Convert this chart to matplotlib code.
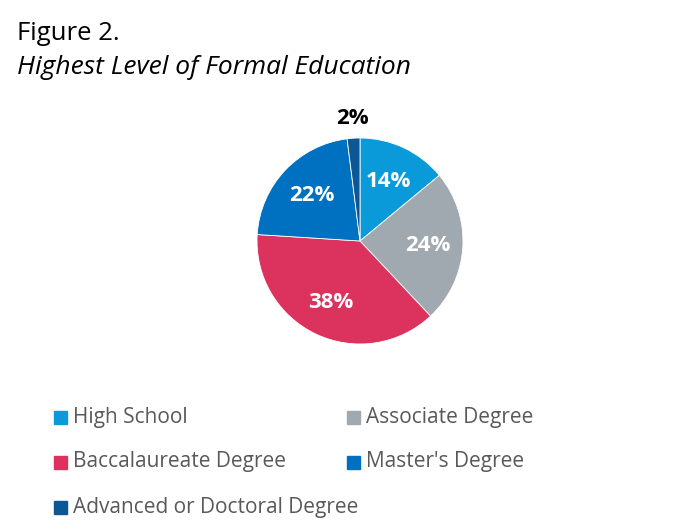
import numpy as np
import matplotlib.pyplot as plt

categories = ['High School', 'Associate Degree', 'Baccalaureate Degree',
              "Master's Degree", 'Advanced or Doctoral Degree']
values = [14, 24, 38, 22, 2]
colors = ['#0A9ADA', '#A0A9B0', '#DC325E', '#0070C0', '#0B5894']

plt.rcParams['font.family'] = ['Open Sans', 'DejaVu Sans']

W, H = 698, 532
fig = plt.figure(figsize=(W / 100, H / 100), dpi=100)

# pie centre and radius in pixels
cx, cy, r = 360, 241, 103
ax = fig.add_axes([(cx - r) / W, (H - cy - r) / H, 2 * r / W, 2 * r / H])
wedges, _ = ax.pie(values, colors=colors, startangle=90, counterclock=False,
                   wedgeprops=dict(edgecolor='white', linewidth=0.6))
ax.set_xlim(-1, 1)
ax.set_ylim(-1, 1)
ax.set_aspect('equal')
ax.axis('off')

# percentage labels
total = sum(values)
start = 90.0
dists = [0.64, 0.66, 0.66, 0.64, 1.2]
for i, v in enumerate(values):
    mid = np.deg2rad(start - v / total * 180)
    start -= v / total * 360
    x, y = dists[i] * np.cos(mid), dists[i] * np.sin(mid)
    if i == 4:
        x, y = -0.07, 1.19
        col = 'black'
    else:
        col = 'white'
    ax.text(x, y, f'{v}%', color=col, fontsize=16, fontweight='bold',
            ha='center', va='center')

fig.text(17 / W, 1 - 34 / H, 'Figure 2.', fontsize=18.5, va='center', ha='left')
fig.text(17 / W, 1 - 68 / H, 'Highest Level of Formal Education', fontsize=19,
         style='italic', va='center', ha='left')

# legend
rows = [417, 462, 507]
cols = [60, 353]
for i, (lab, c) in enumerate(zip(categories, colors)):
    px = cols[i % 2]
    py = rows[i // 2]
    fig.patches.append(plt.Rectangle(((px - 6.5) / W, 1 - (py + 6.5) / H), 13 / W, 13 / H,
                                     transform=fig.transFigure, color=c))
    fig.text((px + 13) / W, 1 - py / H, lab, fontsize=15, color='#595959',
             va='center', ha='left')

fig.savefig('out.png', dpi=100)
